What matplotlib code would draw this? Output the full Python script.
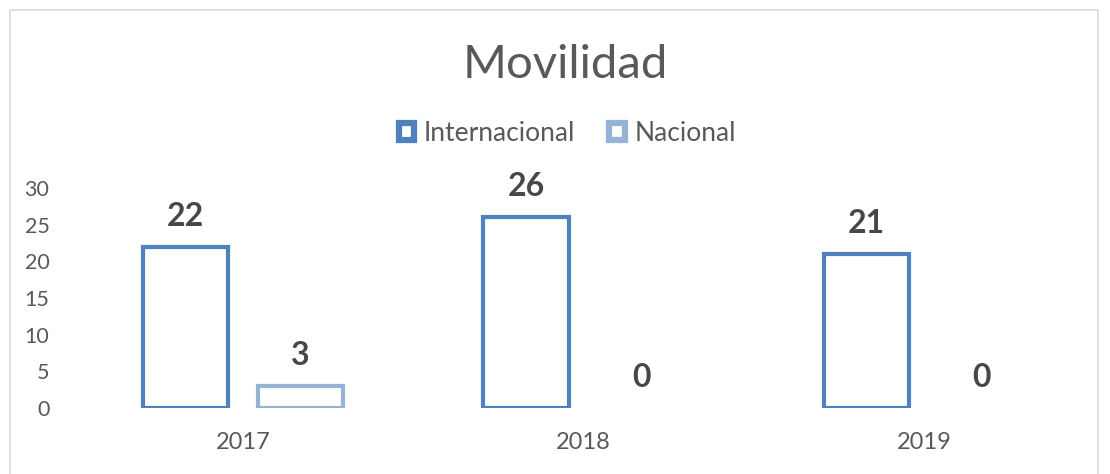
import numpy as np
import matplotlib.pyplot as plt
from matplotlib.patches import Rectangle, Patch

plt.rcParams['font.family'] = ['Lato', 'DejaVu Sans']

# Data
years = ['2017', '2018', '2019']
internacional = [22, 26, 21]
nacional = [3, 0, 0]

c_int = '#4F81BD'
c_nac = '#95B3D7'
label_color = '#595959'
value_color = '#474747'

fig = plt.figure(figsize=(11.1, 4.74), dpi=100)
ax = fig.add_axes([0.0658, 0.139, 0.9198, 0.4641])

# outer chart border
fig.patches.append(Rectangle((10 / 1110, -0.1), 1088 / 1110, 1.1 - 10 / 474,
                             transform=fig.transFigure, fill=False,
                             edgecolor='#D9D9D9', linewidth=1.2))

x = np.arange(len(years))
w = 0.25
off = 0.169

lw_int = [3 if v > 0 else 0 for v in internacional]
lw_nac = [3 if v > 0 else 0 for v in nacional]
b1 = ax.bar(x - off, internacional, w, facecolor='white', edgecolor=c_int,
            linewidth=lw_int, label='Internacional')
b2 = ax.bar(x + off, nacional, w, facecolor='white', edgecolor=c_nac,
            linewidth=lw_nac, label='Nacional')

for bars, vals in ((b1, internacional), (b2, nacional)):
    for rect, v in zip(bars, vals):
        ax.annotate(str(v), (rect.get_x() + rect.get_width() / 2, v),
                    xytext=(0, 22), textcoords='offset points',
                    ha='center', va='center', fontsize=23, fontweight='bold',
                    color=value_color)

ax.set_xlim(-0.5, 2.5)
ax.set_ylim(0, 30)
ax.set_yticks(range(0, 31, 5))
ax.set_xticks(x)
ax.set_xticklabels(years)
ax.tick_params(axis='y', length=0, labelsize=15.5, colors=label_color, pad=17)
ax.tick_params(axis='x', length=0, labelsize=17, colors=label_color, pad=17)
for s in ax.spines.values():
    s.set_visible(False)

fig.text(0.509, 0.862, 'Movilidad', ha='center', va='center', fontsize=34,
         color=label_color)

handles = [Patch(facecolor='white', edgecolor=c_int, linewidth=4.5),
           Patch(facecolor='white', edgecolor=c_nac, linewidth=4.5)]
leg = fig.legend(handles=handles, labels=['Internacional', 'Nacional'],
                 loc='center', bbox_to_anchor=(0.511, 0.719), ncol=2,
                 frameon=False, fontsize=19, handlelength=0.6, handleheight=0.6,
                 handletextpad=0.35, columnspacing=1.3)
for t in leg.get_texts():
    t.set_color(label_color)

fig.savefig('out.png', dpi=100)
